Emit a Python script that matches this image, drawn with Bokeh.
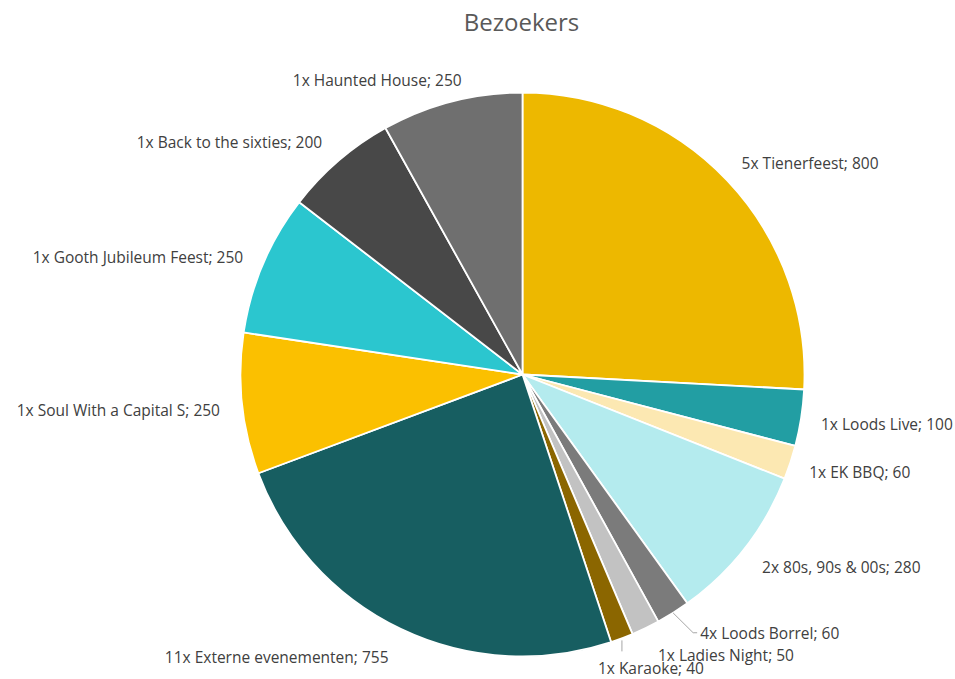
import math
from bokeh.plotting import figure
from bokeh.models import ColumnDataSource, Range1d
from bokeh.core.properties import value
from bokeh.embed import file_html
from bokeh.resources import INLINE

# ---- data ----
title_text = "Bezoekers"
labels = ["5x Tienerfeest", "1x Loods Live", "1x EK BBQ", "2x 80s, 90s & 00s",
          "4x Loods Borrel", "1x Ladies Night", "1x Karaoke", "11x Externe evenementen",
          "1x Soul With a Capital S", "1x Gooth Jubileum Feest", "1x Back to the sixties",
          "1x Haunted House"]
visitors = [800, 100, 60, 280, 60, 50, 40, 755, 250, 250, 200, 250]
colors = ["#EDB800", "#229EA3", "#FCE8B2", "#B4EBEE", "#7B7B7B", "#C2C2C2",
          "#8B6600", "#175E61", "#FBC000", "#2BC6CF", "#484848", "#6F6F6F"]

# label nudges (styling, px)
nudge_x = [-6, -8, -8, -5, 12, 0, -34, 0, 6, 6, 2, 17]
nudge_y = [2, 2, 1, 2, -4, 1, 3, 3, 3, 4, 3, 6]
leader = [False, False, False, False, True, False, True, False, False, False, False, False]

W, H = 955, 679
cx, cy, R = 522, H - 374, 282

p = figure(width=W, height=H, output_backend="svg", toolbar_location=None,
           x_range=Range1d(0, W), y_range=Range1d(0, H), min_border=0)
p.axis.visible = False
p.grid.visible = False
p.outline_line_color = None
p.background_fill_color = "white"
p.border_fill_color = "white"

total = sum(visitors)
starts, ends, mids = [], [], []
cum = 0
for v in visitors:
    a0 = math.pi / 2 - cum / total * 2 * math.pi
    cum += v
    a1 = math.pi / 2 - cum / total * 2 * math.pi
    starts.append(a0)
    ends.append(a1)
    mids.append((a0 + a1) / 2)

src = ColumnDataSource(dict(start=starts, end=ends, color=colors))
p.wedge(x=cx, y=cy, radius=R, start_angle="start", end_angle="end",
        direction="clock", fill_color="color", line_color="white", line_width=1.8,
        source=src)

lx, ly, txt, align = [], [], [], []
for i, (lab, v, m) in enumerate(zip(labels, visitors, mids)):
    bx = cx + 1.1 * R * math.cos(m)
    by = cy + 1.1 * R * math.sin(m)
    x = bx + nudge_x[i]
    y = by - nudge_y[i]
    lx.append(x)
    ly.append(y)
    txt.append(f"{lab}; {v}")
    align.append("left" if math.cos(m) >= 0 else "right")
    if leader[i]:
        ex = cx + R * math.cos(m)
        ey = cy + R * math.sin(m)
        if lab.startswith("4x"):
            p.line([ex, bx + 5, x - 3], [ey, by + 4, by + 4], line_color="#A6A6A6", line_width=1)
        else:
            p.line([ex, ex], [ey - 2, ey - 13], line_color="#A6A6A6", line_width=1)

lsrc = ColumnDataSource(dict(x=lx, y=ly, text=txt, align=align))
p.text(x="x", y="y", text="text", text_align="align", text_baseline="middle",
       text_font=value("Open Sans"), text_font_size="15.5px", text_color="#404040", source=lsrc)

p.text(x=[521], y=[H - 21], text=[title_text], text_align="center", text_baseline="middle",
       text_font=value("Open Sans"), text_font_size="24px", text_color="#595959")

open("out.html", "w").write(file_html(p, INLINE))
